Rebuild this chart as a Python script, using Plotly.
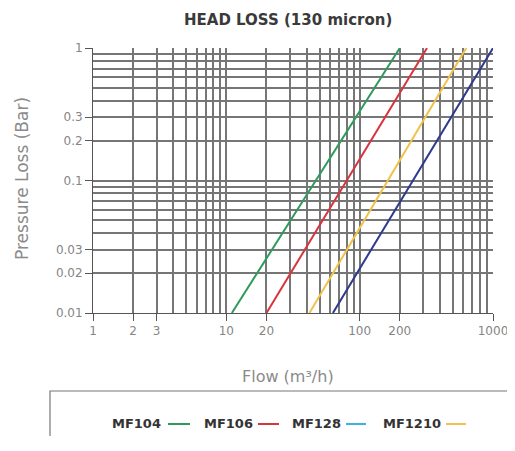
import plotly.graph_objects as go

# ---- data ----
series_names = ["MF104", "MF106", "MF128", "MF1210"]
line_colors = ["#2f9a5c", "#d8343f", "#f0c24a", "#2e3a8c"]
legend_colors = ["#2f9a5c", "#d8343f", "#3cb2e0", "#f0c24a"]
flow_mf104 = [11, 200]
flow_mf106 = [20, 320]
flow_mf128 = [42, 630]
flow_mf1210 = [63, 1000]
loss_all = [0.01, 1.0]
flows = [flow_mf104, flow_mf106, flow_mf128, flow_mf1210]

x_tick_vals = [1, 2, 3, 10, 20, 100, 200, 1000]
x_tick_text = ["1", "2", "3", "10", "20", "100", "200", "1000"]
x_minor_vals = [v * d for d in (1, 10, 100) for v in range(2, 10)]
y_tick_vals = [0.01, 0.02, 0.03, 0.1, 0.2, 0.3, 1]
y_tick_text = ["0.01", "0.02", "0.03", "0.1", "0.2", "0.3", "1"]
y_minor_vals = [v * d for d in (0.01, 0.1) for v in range(2, 10)]

# page has an 8px body margin; plot area in page coords: x 93..493, y 48..313
W, H = 507, 428
L, R, T, B = 85, 22, 40, 123
PX0, PX1, PY0, PY1 = 93, 493, 48, 313


def px(x):
    return (x - PX0) / (PX1 - PX0)


def py(y):
    return (PY1 - y) / (PY1 - PY0)


fig = go.Figure()
for f, c in zip(flows, line_colors):
    fig.add_trace(go.Scatter(x=f, y=loss_all, mode="lines",
                             line=dict(color=c, width=2), showlegend=False,
                             hoverinfo="skip"))

grid_c = "#767676"
fnt = "DejaVu Sans"
axis_common = dict(type="log", showline=True, linecolor="#555", linewidth=1,
                   ticks="outside", ticklen=7, tickcolor="#555",
                   showgrid=True, gridcolor=grid_c, gridwidth=1.6,
                   tickfont=dict(family=fnt, size=12, color="#858585"),
                   zeroline=False, mirror=False, automargin=False)
fig.update_xaxes(range=[0, 3], tickmode="array", tickvals=x_tick_vals,
                 ticktext=x_tick_text, ticklabeloverflow="allow",
                 minor=dict(tickmode="array", tickvals=x_minor_vals,
                            showgrid=True, gridcolor=grid_c, gridwidth=1.6,
                            ticks=""),
                 **axis_common)
fig.update_yaxes(range=[-2, 0], tickmode="array", tickvals=y_tick_vals,
                 ticktext=y_tick_text,
                 minor=dict(tickmode="array", tickvals=y_minor_vals,
                            showgrid=True, gridcolor=grid_c, gridwidth=1.6,
                            ticks=""),
                 **axis_common)

ann = []
ann.append(dict(text="<b>HEAD LOSS (130 micron)</b>", x=px(288), y=py(20),
                xanchor="center", yanchor="middle",
                xref="paper", yref="paper", showarrow=False,
                font=dict(family=fnt, size=15, color="#3a3a3a")))
ann.append(dict(text="Flow (m³/h)", x=px(288), y=py(376),
                xanchor="center", yanchor="middle",
                xref="paper", yref="paper", showarrow=False,
                font=dict(family=fnt, size=16, color="#8a8a8a")))
ann.append(dict(text="Pressure Loss (Bar)", x=px(22), y=py(179), textangle=-90,
                xanchor="center", yanchor="middle",
                xref="paper", yref="paper", showarrow=False,
                font=dict(family=fnt, size=17, color="#8a8a8a")))

shapes = []
# legend box
shapes.append(dict(type="rect", xref="paper", yref="paper",
                   x0=px(50), x1=px(540), y0=py(480), y1=py(391),
                   line=dict(color="#777", width=1.2), fillcolor="rgba(0,0,0,0)"))
text_ends = [163, 255, 343, 443]
sw = [(168, 190), (258, 279), (346, 366), (446, 466)]
for name, te, (s0, s1), c in zip(series_names, text_ends, sw, legend_colors):
    ann.append(dict(text="<b>" + name + "</b>", x=px(te), y=py(423),
                    xanchor="right", yanchor="middle",
                    xref="paper", yref="paper", showarrow=False,
                    font=dict(family=fnt, size=13, color="#333")))
    shapes.append(dict(type="line", xref="paper", yref="paper",
                       x0=px(s0), x1=px(s1), y0=py(424), y1=py(424),
                       line=dict(color=c, width=2)))

fig.update_layout(width=W, height=H, margin=dict(l=L, r=R, t=T, b=B),
                  plot_bgcolor="white", paper_bgcolor="white",
                  annotations=ann, shapes=shapes, showlegend=False)
fig.write_html("out.html")
